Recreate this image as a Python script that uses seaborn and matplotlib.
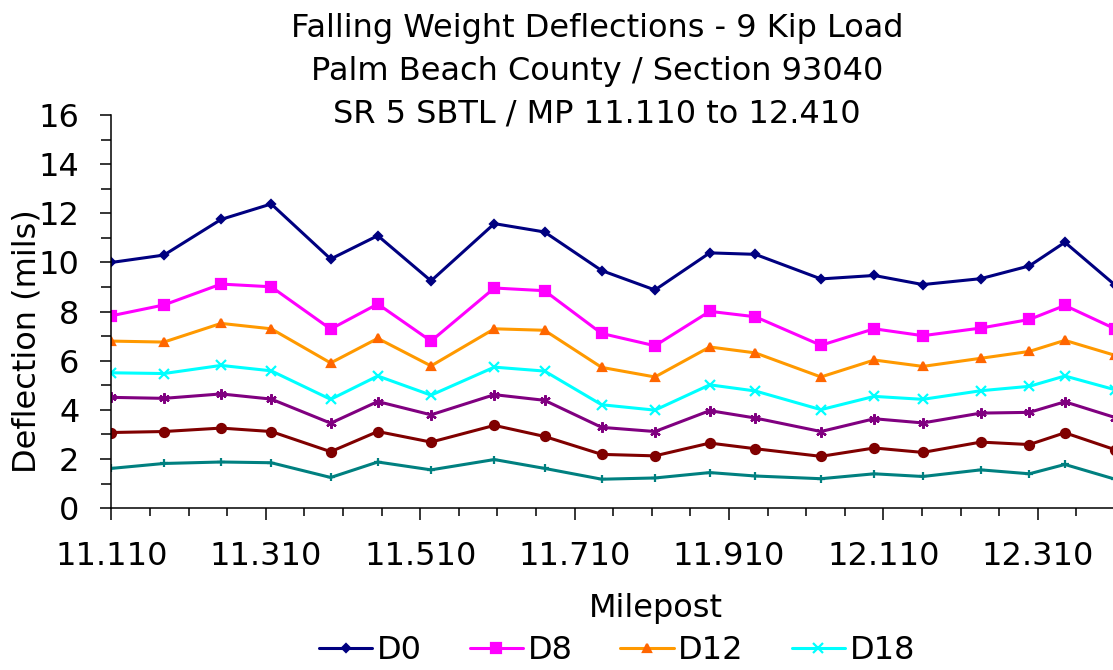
import numpy as np
import pandas as pd
import seaborn as sns
import matplotlib.pyplot as plt
from matplotlib.ticker import FixedLocator, MultipleLocator, FormatStrFormatter

# milepost of each FWD drop
milepost = [11.110, 11.178, 11.252, 11.317, 11.394, 11.455, 11.524, 11.606, 11.671, 11.745,
            11.814, 11.885, 11.944, 12.029, 12.098, 12.161, 12.236, 12.299, 12.345, 12.410]

d0 = [10.00, 10.30, 11.75, 12.38, 10.14, 11.09, 9.25, 11.58, 11.24, 9.67,
      8.88, 10.39, 10.33, 9.33, 9.47, 9.10, 9.34, 9.86, 10.82, 9.08]
d8 = [7.83, 8.27, 9.12, 9.01, 7.29, 8.31, 6.80, 8.96, 8.85, 7.11,
      6.61, 8.01, 7.79, 6.63, 7.30, 7.02, 7.33, 7.68, 8.25, 7.30]
d12 = [6.80, 6.76, 7.52, 7.30, 5.91, 6.91, 5.79, 7.30, 7.24, 5.73,
       5.34, 6.56, 6.32, 5.34, 6.03, 5.77, 6.10, 6.38, 6.83, 6.22]
d18 = [5.51, 5.48, 5.81, 5.59, 4.43, 5.38, 4.60, 5.74, 5.58, 4.21,
       3.99, 5.02, 4.77, 4.01, 4.55, 4.43, 4.78, 4.96, 5.38, 4.82]
d24 = [4.51, 4.47, 4.65, 4.44, 3.46, 4.34, 3.80, 4.62, 4.39, 3.29,
       3.12, 3.97, 3.67, 3.12, 3.64, 3.47, 3.87, 3.90, 4.33, 3.69]
d36 = [3.08, 3.12, 3.26, 3.12, 2.30, 3.12, 2.69, 3.37, 2.92, 2.19,
       2.13, 2.65, 2.42, 2.11, 2.45, 2.27, 2.69, 2.59, 3.07, 2.38]
d60 = [1.62, 1.82, 1.88, 1.85, 1.25, 1.88, 1.56, 1.98, 1.62, 1.18,
       1.23, 1.45, 1.31, 1.20, 1.40, 1.29, 1.56, 1.40, 1.78, 1.18]

sensors = ["D0", "D8", "D12", "D18", "D24", "D36", "D60"]
values = [d0, d8, d12, d18, d24, d36, d60]
line_colors = ["#000080", "#FF00FF", "#FF9900", "#00FFFF", "#800080", "#800000", "#008080"]
marker_colors = ["#000080", "#FF00FF", "#FF6600", "#00FFFF", "#800080", "#800000", "#008080"]
markers = ["D", "s", "^", "x", (6, 2, 0), "o", "+"]
msizes = [4.5, 6.5, 6, 7, 7.5, 6.5, 6]

major_ticks = [11.110, 11.310, 11.510, 11.710, 11.910, 12.110, 12.310]

sns.set_style("ticks")
plt.rcParams["font.family"] = ["DejaVu Sans"]
plt.rcParams["text.color"] = "black"
plt.rcParams["axes.labelcolor"] = "black"
plt.rcParams["xtick.color"] = "black"
plt.rcParams["ytick.color"] = "black"
FS = 23

W, H = 1113, 670
fig = plt.figure(figsize=(W / 100, H / 100), dpi=100)
# plot area runs past the right edge of the picture (the original is cropped there)
x0, x1 = 11.11, 12.52
left, right, top, bottom = 111.4, 1200.0, 115.0, 508.2
ax = fig.add_axes([left / W, (H - bottom) / H, (right - left) / W, (bottom - top) / H])

for name, vals, lc, mc, mk, ms in zip(sensors, values, line_colors, marker_colors, markers, msizes):
    sns.lineplot(x=milepost, y=vals, ax=ax, color=lc, marker=mk, markersize=ms,
                 markerfacecolor=mc, markeredgecolor=mc, markeredgewidth=1.6,
                 linewidth=2.2, label=name, sort=False)

ax.set_xlim(x0, x1)
ax.set_ylim(0, 16)
ax.xaxis.set_major_locator(FixedLocator(major_ticks))
ax.xaxis.set_minor_locator(FixedLocator(np.round(np.arange(11.11, 12.52, 0.05), 3)))
ax.xaxis.set_major_formatter(FormatStrFormatter("%.3f"))
ax.yaxis.set_major_locator(MultipleLocator(2))
ax.yaxis.set_minor_locator(MultipleLocator(1))

for s in ["top", "right"]:
    ax.spines[s].set_visible(False)
for s in ["left", "bottom"]:
    ax.spines[s].set_color("black")
    ax.spines[s].set_linewidth(1.1)

ax.tick_params(axis="x", which="major", direction="out", length=8.5, width=1.1, pad=15, labelsize=FS, colors="black")
ax.tick_params(axis="x", which="minor", direction="out", length=6, width=1.1, colors="black")
ax.tick_params(axis="y", which="major", direction="out", length=8, width=1.1, pad=15, labelsize=FS, colors="black")
ax.tick_params(axis="y", which="minor", direction="out", length=7.5, width=1.1, colors="black")

ax.set_xlabel("Milepost", fontsize=FS, va="baseline", color="black")
ax.xaxis.set_label_coords(0.5, (H - 617 - (H - bottom)) / (bottom - top))
ax.set_ylabel("Deflection (mils)", fontsize=FS, va="center", ha="center", color="black")
ax.yaxis.set_label_coords((27.5 - left) / (right - left), (H - 341.5 - (H - bottom)) / (bottom - top))

title_lines = ["Falling Weight Deflections - 9 Kip Load",
               "Palm Beach County / Section 93040",
               "SR 5 SBTL / MP 11.110 to 12.410"]
for line, base in zip(title_lines, [37, 80, 123]):
    fig.text(597 / W, 1 - base / H, line, ha="center", va="baseline", fontsize=FS, color="black")

handles, labels = ax.get_legend_handles_labels()
ax.get_legend().remove()
leg = fig.legend(handles[:4], labels[:4], loc="center left", bbox_to_anchor=(319 / W, 19.3 / H),
                 ncol=4, frameon=False, fontsize=FS, handlelength=1.66, handletextpad=0.15,
                 columnspacing=1.5, borderpad=0, borderaxespad=0)
for t in leg.get_texts():
    t.set_color("black")

fig.savefig("out.png", dpi=100)
